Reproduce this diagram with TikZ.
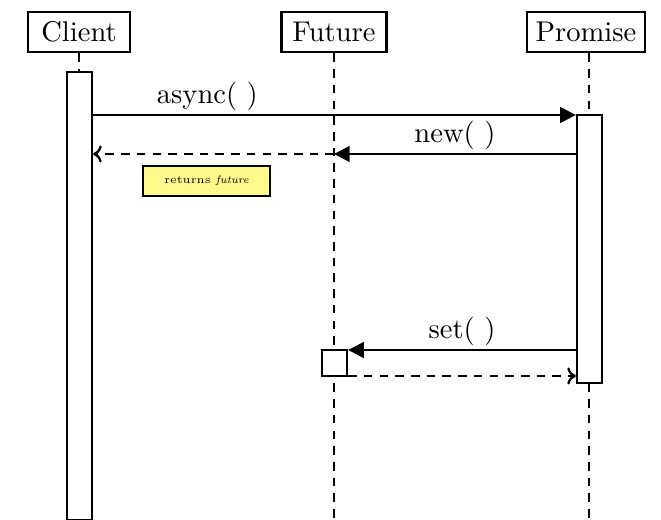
\documentclass[tikz,border=0pt]{standalone}
\usetikzlibrary{arrows.meta}
\begin{document}
\begin{tikzpicture}[x=0.35pt,y=-0.35pt,
  actor/.style={draw,line width=1pt,minimum height=14pt,inner xsep=3pt,inner ysep=0pt,font=\normalsize},
  life/.style={dashed,line width=0.7pt,dash pattern=on 3pt off 2.5pt},
  bar/.style={draw,line width=0.8pt,fill=white,minimum width=8.75pt,inner sep=0pt},
  call/.style={line width=0.8pt,-{Triangle[length=5.5pt,width=5.5pt]}},
  ret/.style={line width=0.8pt,dashed,dash pattern=on 3pt off 2.5pt,-{To[length=3pt,width=6pt]}},
  lbl/.style={font=\normalsize,inner sep=1pt},
  note/.style={draw,line width=0.6pt,fill=yellow!45,font=\fontsize{3.8}{4.5}\selectfont,minimum width=44.5pt,minimum height=10.5pt,inner sep=0pt}]
\useasboundingbox (0,0) rectangle (661,520);
% actors
\node[actor,minimum width=35.7pt] (client) at (79,32) {Client};
\node[actor,minimum width=37pt] (future) at (334,32) {Future};
\node[actor,minimum width=41.3pt] (promise) at (586,32) {Promise};
% lifeline ends
\coordinate (cl) at (79,72);
\coordinate (fe) at (334,520);
\coordinate (pe) at (589,520);
\draw[life] (client.south) -- (cl);
\draw[life] (future.south -| fe) -- (fe);
\draw[life] (promise.south -| pe) -- (pe);
% activation bars
\node[bar,minimum height=156.8pt] (cbar) at (79.5,296) {};
\node[bar,minimum height=93.8pt] (pbar) at (589.5,249) {};
\node[bar,minimum height=9.1pt] (fbox) at (334.5,363) {};
% messages
\coordinate (y1) at (0,115);
\coordinate (y2) at (0,154);
\coordinate (y3) at (0,350);
\coordinate (y4) at (0,376);
\draw[call] (cbar.east |- y1) -- node[lbl,above,xshift=-44.5pt] {async( )} (pbar.west |- y1);
\draw[call] (pbar.west |- y2) -- node[lbl,above] {new( )} (fe |- y2);
\draw[ret] (fe |- y2) -- (cbar.east |- y2);
\node[note] (n1) at (206.5,181) {returns \textit{future}};
\draw[call] (pbar.west |- y3) -- node[lbl,above] {set( )} (fbox.east |- y3);
\draw[ret] (fbox.east |- y4) -- (pbar.west |- y4);
\end{tikzpicture}
\end{document}
